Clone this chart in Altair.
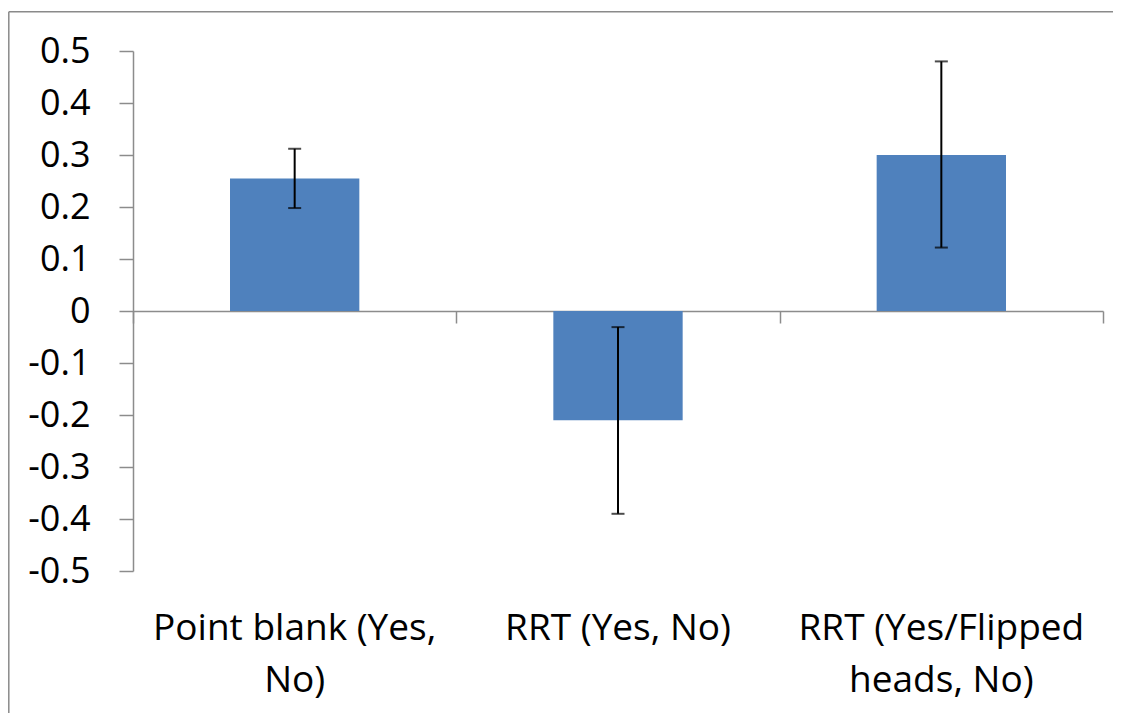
import altair as alt
import pandas as pd

categories = ["Point blank (Yes, No)", "RRT (Yes, No)", "RRT (Yes/Flipped heads, No)"]
label_lines = [["Point blank (Yes,", "No)"], ["RRT (Yes, No)"], ["RRT (Yes/Flipped", "heads, No)"]]
values = [0.255, -0.21, 0.300]
err_low = [0.198, -0.390, 0.122]
err_high = [0.312, -0.031, 0.480]
y_ticks = [-0.5, -0.4, -0.3, -0.2, -0.1, 0.0, 0.1, 0.2, 0.3, 0.4, 0.5]

df = pd.DataFrame({"cat": categories, "value": values, "lo": err_low, "hi": err_high})

W, H = 970, 520
AXIS_GRAY = "#8c8c8c"
FONT = "Open Sans"

parts = []
for c, lines in zip(categories, label_lines):
    arr = "[" + ",".join("'" + l + "'" for l in lines) + "]"
    parts.append((c, arr))
expr = "''"
for c, arr in reversed(parts):
    expr = f"datum.value == '{c}' ? {arr} : ({expr})"

xscale = alt.Scale(paddingInner=0, paddingOuter=0)
ysc = alt.Scale(domain=[-0.5, 0.5], nice=False, zero=False)

yaxis = alt.Axis(
    values=y_ticks,
    labelExpr="abs(datum.value) < 1e-9 ? '0' : (datum.value < 0 ? '-' + format(-datum.value, '.1f') : format(datum.value, '.1f'))",
    title=None, grid=False, domainColor=AXIS_GRAY, domainWidth=1.5,
    tickColor=AXIS_GRAY, tickWidth=1.5, tickSize=14, labelPadding=29,
    labelFontSize=36, labelColor="black", labelFont=FONT,
)

base = alt.Chart(df)

bars = base.mark_bar(color="#4f81bd", width=alt.RelativeBandSize(0.4)).encode(
    x=alt.X("cat:N", sort=categories, scale=xscale,
            axis=alt.Axis(orient="bottom", offset=-H / 2, labels=False, title=None,
                          domain=True, domainColor=AXIS_GRAY, domainWidth=1.5,
                          ticks=True, tickBand="extent", tickColor=AXIS_GRAY,
                          tickWidth=1.5, tickSize=12, grid=False)),
    y=alt.Y("value:Q", scale=ysc, axis=yaxis),
)

err = base.mark_rule(color="black", strokeWidth=2).encode(
    x=alt.X("cat:N", sort=categories, scale=xscale,
            axis=alt.Axis(orient="bottom", labelExpr=expr, title=None, domain=False,
                          ticks=False, grid=False, labelFontSize=37, labelFont=FONT,
                          labelColor="black", labelPadding=39, labelLineHeight=52,
                          labelLimit=500, labelAngle=0)),
    y=alt.Y("lo:Q", scale=ysc, axis=yaxis),
    y2="hi:Q",
)

cap_lo = base.mark_tick(color="black", thickness=2, size=13).encode(
    x=alt.X("cat:N", sort=categories, scale=xscale, axis=None),
    y=alt.Y("lo:Q", scale=ysc, axis=yaxis),
)
cap_hi = base.mark_tick(color="black", thickness=2, size=13).encode(
    x=alt.X("cat:N", sort=categories, scale=xscale, axis=None),
    y=alt.Y("hi:Q", scale=ysc, axis=yaxis),
)

border_df = pd.DataFrame({"k": [1]})
border_top = alt.Chart(border_df).mark_rule(color="#8a8a8a", strokeWidth=1.5).encode(
    x=alt.value(-124.2), x2=alt.value(1000), y=alt.value(-39.3)
)
border_left = alt.Chart(border_df).mark_rule(color="#8a8a8a", strokeWidth=1.5).encode(
    x=alt.value(-124.2), y=alt.value(-39.3), y2=alt.value(700)
)

chart = (
    alt.layer(bars, err, cap_lo, cap_hi, border_top, border_left)
    .resolve_axis(x="independent")
    .properties(
        width=W, height=H,
        autosize=alt.AutoSizeParams(type="none"),
        padding={"left": 125, "top": 43, "right": 10, "bottom": 150},
    )
    .configure(font=FONT, view=alt.ViewConfig(stroke="transparent", strokeWidth=0))
)

chart.save("out.html", embed_options={"renderer": "svg", "actions": False})
